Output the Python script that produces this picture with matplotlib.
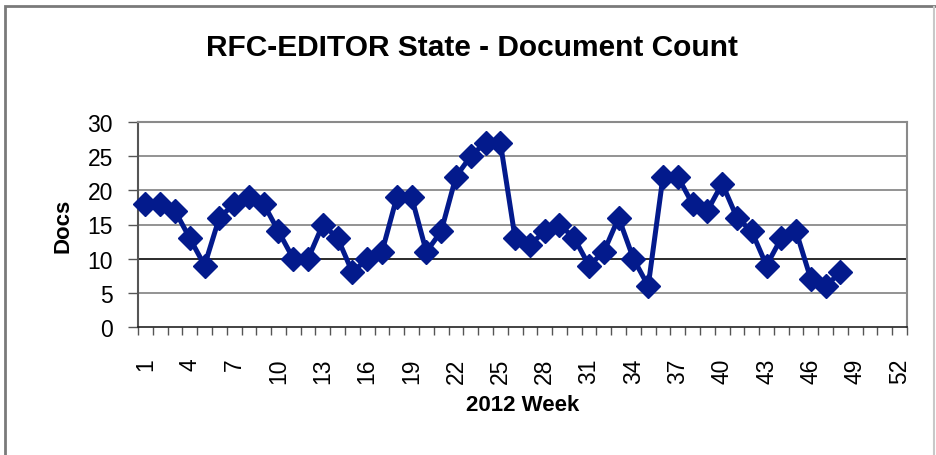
import numpy as np
import matplotlib.pyplot as plt
from matplotlib.patches import Rectangle

plt.rcParams['font.family'] = ['Liberation Sans', 'DejaVu Sans']

# ----------------------------
# Data
# ----------------------------
weeks = np.arange(1, 49)
docs = [18, 18, 17, 13, 9, 16, 18, 19, 18, 14,
        10, 10, 15, 13, 8, 10, 11, 19, 19, 11,
        14, 22, 25, 27, 27, 13, 12, 14, 15, 13,
        9, 11, 16, 10, 6, 22, 22, 18, 17, 21,
        16, 14, 9, 13, 14, 7, 6, 8]
n_weeks = 52
tick_weeks = np.arange(1, n_weeks + 1, 3)
y_ticks = [0, 5, 10, 15, 20, 25, 30]

# ----------------------------
# Figure
# ----------------------------
fig = plt.figure(figsize=(9.36, 4.56), dpi=100)
ax = fig.add_axes([138/936, 1 - 328/456, (907 - 138)/936, (328 - 123)/456])

# outer chart frame
fig.patches.append(Rectangle((5/936, -0.05), 1.0, 1.0 - 7/456 + 0.05,
                             transform=fig.transFigure, fill=False,
                             edgecolor='#7a7a7a', linewidth=2.0))
fig.add_artist(plt.Line2D([934/936, 934/936], [0, 1 - 8/456],
                          transform=fig.transFigure, color='#c8c8c8',
                          linewidth=1.5))

# gridlines
for yv in y_ticks[1:]:
    col = '#1a1a1a' if yv == 10 else '#8a8a8a'
    ax.axhline(yv, color=col, linewidth=1.3, zorder=1)

ax.plot(weeks, docs, color='#031a8c', linewidth=3.6, marker='D',
        markersize=12.5, markeredgecolor='#031a8c', zorder=3, clip_on=False)

ax.set_xlim(0.5, n_weeks + 0.5)
ax.set_ylim(0, 30)

ax.set_xticks(np.arange(0.5, n_weeks + 1.0, 1.0))
ax.set_xticklabels([])
ax.set_xticks(tick_weeks, minor=True)
ax.set_xticklabels([str(w) for w in tick_weeks], minor=True, rotation=90,
                   fontsize=16.5)
ax.tick_params(axis='x', which='major', direction='out', length=6,
               width=1, color='#555555')
ax.tick_params(axis='x', which='minor', length=0, pad=22)

ax.set_yticks(y_ticks)
ax.tick_params(axis='y', direction='out', length=7, width=1,
               color='#555555', labelsize=16.5, pad=11)

for side in ['top', 'right']:
    ax.spines[side].set_color('#8a8a8a')
    ax.spines[side].set_linewidth(1.5)
ax.spines['left'].set_color('#555555')
ax.spines['left'].set_linewidth(1.5)
ax.spines['bottom'].set_color('#222222')
ax.spines['bottom'].set_linewidth(1.2)

ax.set_ylabel('Docs', fontsize=16, fontweight='bold', labelpad=10)
ax.set_xlabel('2012 Week', fontsize=16, fontweight='bold', labelpad=8)

fig.text(472/936, 1 - 48/456, 'RFC-EDITOR State - Document Count',
         ha='center', va='center', fontsize=21.5, fontweight='bold')

fig.savefig('out.png', dpi=100)
